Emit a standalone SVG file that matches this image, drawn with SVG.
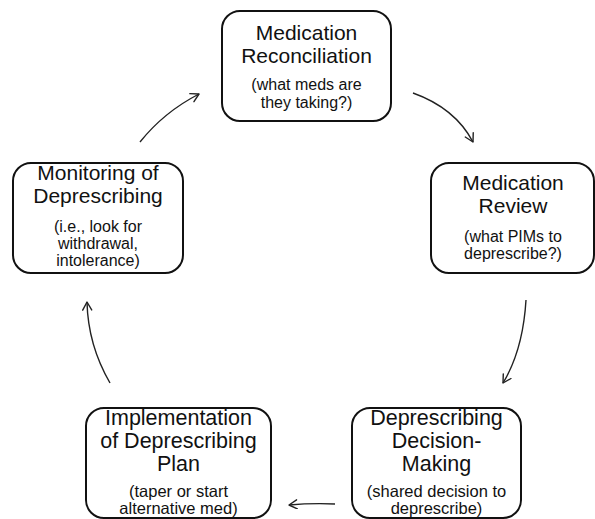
<svg xmlns="http://www.w3.org/2000/svg" width="595" height="519" viewBox="0 0 595 519">
<defs>
<marker id="ah" markerUnits="userSpaceOnUse" markerWidth="14" markerHeight="14" refX="9" refY="5" orient="auto">
<path d="M1,0.5 L9,5 L1,9.5" fill="none" stroke="#222" stroke-width="1.4" stroke-linecap="round" stroke-linejoin="round"/>
</marker>
</defs>
<style>
.box{fill:#fff;stroke:#111;stroke-width:2}
.t{font-family:"Liberation Sans",Arial,sans-serif;fill:#111;text-anchor:middle}
.h{font-size:21px}
.hb{font-size:21.5px}
.s{font-size:16px}
.sb{font-size:16.5px}
.c{fill:none;stroke:#222;stroke-width:1.4;marker-end:url(#ah)}
</style>
<rect width="595" height="519" fill="#fff"/>
<g id="connectors">
<path class="c" d="M413,93 Q455,108 473,142"/>
<path class="c" d="M526,300 Q523,350 503,383"/>
<path class="c" d="M335,504 Q312,503 289,505"/>
<path class="c" d="M110,383 Q88,345 87,302"/>
<path class="c" d="M140,142 Q164,112 199,94"/>
</g>
<g id="node-reconciliation">
<rect class="box" x="222" y="11" width="169" height="110" rx="18"/>
<text class="t h" x="306.5" y="40">Medication</text>
<text class="t h" x="306.5" y="63">Reconciliation</text>
<text class="t s" x="306.5" y="90">(what meds are</text>
<text class="t s" x="306.5" y="108">they taking?)</text>
</g>
<g id="node-review">
<rect class="box" x="431" y="163" width="163" height="110" rx="18"/>
<text class="t h" x="513" y="190">Medication</text>
<text class="t h" x="513" y="213">Review</text>
<text class="t s" x="513" y="242">(what PIMs to</text>
<text class="t s" x="513" y="259">deprescribe?)</text>
</g>
<g id="node-decision">
<rect class="box" x="352" y="408" width="169" height="110" rx="18"/>
<text class="t hb" x="436.5" y="425">Deprescribing</text>
<text class="t hb" x="436.5" y="448">Decision-</text>
<text class="t hb" x="436.5" y="471">Making</text>
<text class="t sb" x="436.5" y="497">(shared decision to</text>
<text class="t sb" x="436.5" y="514">deprescribe)</text>
</g>
<g id="node-implementation">
<rect class="box" x="86" y="408" width="185" height="110" rx="18"/>
<text class="t hb" x="178.5" y="425">Implementation</text>
<text class="t hb" x="178.5" y="448">of Deprescribing</text>
<text class="t hb" x="178.5" y="471">Plan</text>
<text class="t sb" x="178.5" y="497">(taper or start</text>
<text class="t sb" x="178.5" y="514">alternative med)</text>
</g>
<g id="node-monitoring">
<rect class="box" x="13" y="163" width="170" height="110" rx="18"/>
<text class="t h" x="98" y="180">Monitoring of</text>
<text class="t h" x="98" y="203">Deprescribing</text>
<text class="t s" x="98" y="232">(i.e., look for</text>
<text class="t s" x="98" y="249">withdrawal,</text>
<text class="t s" x="98" y="266">intolerance)</text>
</g>
</svg>
